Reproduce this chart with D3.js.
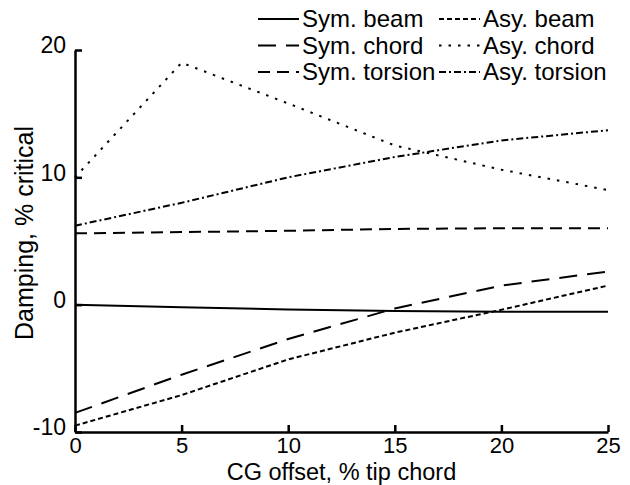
<!DOCTYPE html>
<html>
<head>
<meta charset="utf-8">
<script src="https://cdn.jsdelivr.net/npm/d3@7"></script>
<style>
  body { margin: 0; background: #fff; }
  svg { display: block; font-family: "Liberation Sans", Arial, Helvetica, sans-serif; }
</style>
</head>
<body>
<div id="chart"></div>
<script>
const cgOffset = [0, 5, 10, 15, 20, 25];
const symBeam = [0, -0.2, -0.38, -0.5, -0.55, -0.55];
const symChord = [-8.5, -5.5, -2.7, -0.3, 1.5, 2.6];
const symTorsion = [5.6, 5.7, 5.8, 5.95, 6.0, 6.0];
const asyBeam = [-9.5, -7.1, -4.3, -2.2, -0.4, 1.5];
const asyChord = [10.0, 19.0, 15.8, 12.5, 10.6, 9.0];
const asyTorsion = [6.2, 8.0, 10.0, 11.6, 12.9, 13.7];

const seriesNames = ['Sym. beam', 'Sym. chord', 'Sym. torsion', 'Asy. beam', 'Asy. chord', 'Asy. torsion'];
const seriesValues = [symBeam, symChord, symTorsion, asyBeam, asyChord, asyTorsion];
const xTicks = [0, 5, 10, 15, 20, 25];
const yTicks = [-10, 0, 10, 20];

// line styles, same order as the names
const dashes = [null, '18,10', '12,7', '5,3', '2.5,7', '7,3,2,3'];

const width = 630;
const height = 485;
const margin = { top: 50, right: 22, bottom: 53, left: 75 };

const svg = d3.select('#chart')
    .append('svg')
    .attr('width', width)
    .attr('height', height);

const x = d3.scaleLinear()
    .domain([0, 25])
    .range([margin.left, width - margin.right]);

const y = d3.scaleLinear()
    .domain([-10, 20])
    .range([height - margin.bottom, margin.top]);

const series = seriesNames.map((name, i) => ({
    name,
    dash: dashes[i],
    points: cgOffset.map((c, j) => [c, seriesValues[i][j]])
}));

const line = d3.line()
    .x(d => x(d[0]))
    .y(d => y(d[1]));

svg.append('g')
    .selectAll('path')
    .data(series)
    .join('path')
    .attr('d', d => line(d.points))
    .attr('fill', 'none')
    .attr('stroke', '#000')
    .attr('stroke-width', 2)
    .attr('stroke-dasharray', d => d.dash);

function xAxis(g) {
    g.attr('transform', `translate(0,${height - margin.bottom})`)
        .call(d3.axisBottom(x).tickValues(xTicks).tickFormat(d => String(d))
            .tickSizeInner(-7).tickSizeOuter(0).tickPadding(5))
        .attr('font-size', '22px')
        .attr('font-family', null);
    g.select('.domain').attr('stroke-width', 2.5);
    g.selectAll('.tick line').attr('stroke-width', 2.5);
    g.selectAll('.tick text').attr('fill', '#000');
}

function yAxis(g) {
    g.attr('transform', `translate(${margin.left},0)`)
        .call(d3.axisLeft(y).tickValues(yTicks).tickFormat(d => String(d))
            .tickSizeInner(-7).tickSizeOuter(0).tickPadding(9))
        .attr('font-size', '23px')
        .attr('font-family', null);
    g.select('.domain').attr('stroke-width', 2.5);
    g.selectAll('.tick line').attr('stroke-width', 2.5);
    g.selectAll('.tick text').attr('fill', '#000').attr('dy', '0.12em');
}

svg.append('g').call(xAxis);
svg.append('g').call(yAxis);

svg.append('text')
    .attr('x', (margin.left + width - margin.right) / 2)
    .attr('y', 480)
    .attr('text-anchor', 'middle')
    .attr('font-size', '23.5px')
    .text('CG offset, % tip chord');

svg.append('text')
    .attr('transform', 'translate(33,233) rotate(-90)')
    .attr('text-anchor', 'middle')
    .attr('font-size', '25px')
    .text('Damping, % critical');

// legend: two columns of three
const legend = svg.append('g')
    .selectAll('g')
    .data(series)
    .join('g')
    .attr('transform', (d, i) => `translate(${i < 3 ? 258 : 439},${19 + (i % 3) * 26.5})`);

legend.append('line')
    .attr('x1', 0)
    .attr('x2', 41)
    .attr('stroke', '#000')
    .attr('stroke-width', 2)
    .attr('stroke-dasharray', d => d.dash);

legend.append('text')
    .attr('x', 44)
    .attr('dy', '0.35em')
    .attr('font-size', '24px')
    .text(d => d.name);
</script>
</body>
</html>
